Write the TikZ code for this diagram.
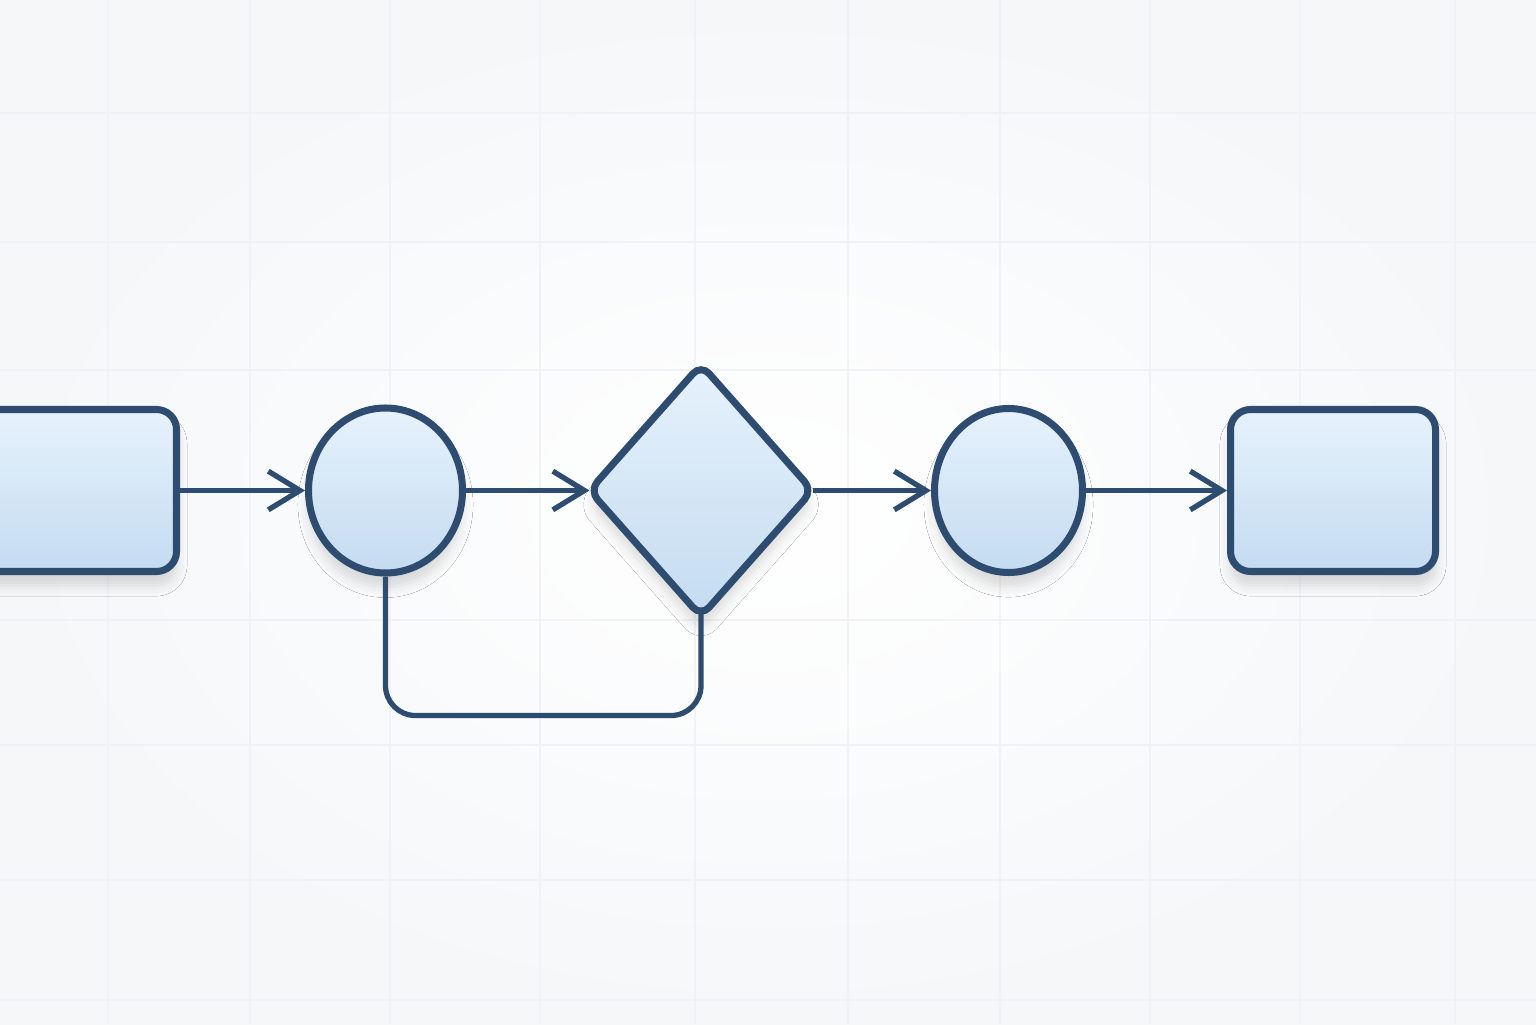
\documentclass[tikz,border=0pt]{standalone}
\usepackage{xcolor}
\usetikzlibrary{arrows.meta,shapes.geometric,shadows.blur,positioning}

\definecolor{edgeblue}{HTML}{2D4C70}
\definecolor{filltop}{HTML}{E6F2FC}
\definecolor{fillbot}{HTML}{C4DBF0}
\definecolor{gridgray}{HTML}{F0F2F5}
\definecolor{paper}{HTML}{F5F7F9}

\begin{document}
\begin{tikzpicture}[>={Straight Barb[length=9pt,width=11pt]}, shorten >=0pt,
                    node distance=3.15cm, line width=1.5pt]
  \tikzstyle{every node}=[draw=edgeblue, line width=2pt, top color=filltop,
                          bottom color=fillbot, inner sep=0pt,
                          blur shadow={shadow xshift=0pt, shadow yshift=-4pt,
                                       shadow opacity=14, shadow blur radius=3pt}]
  \tikzstyle{block}=[rectangle, rounded corners=0.2cm, minimum width=2.05cm,
                     minimum height=1.62cm]
  \tikzstyle{junction}=[ellipse]
  \tikzstyle{gate}=[diamond, rounded corners=0.12cm, outer sep=0pt,
                    minimum width=2.23cm, minimum height=2.52cm]
  \tikzstyle{link}=[draw=edgeblue, line width=1.5pt]

  % page and faint grid
  \useasboundingbox (0,0) rectangle (15.36,10.24);
  \fill[inner color=white, outer color=paper] (0,0) rectangle (15.36,10.24);
  \foreach \x in {1.08,2.50,3.90,5.40,6.95,8.48,10.00,11.50,13.00,14.55}
    \draw[gridgray, line width=0.5pt] (\x,0) -- (\x,10.24);
  \foreach \y in {0.24,1.44,2.79,4.04,6.54,7.82,9.11}
    \draw[gridgray, line width=0.5pt] (0,\y) -- (15.36,\y);

	\node[block]	(start)	at (0.74,5.335)	{};
	\node[junction, minimum width=1.54cm, minimum height=1.65cm]
	              (pick) [right of=start, node distance=3.115cm]	{};
	\node[gate]	(test) [right of=pick, node distance=3.155cm]	{};
	\node[junction, minimum width=1.48cm, minimum height=1.64cm]
	              (work) [right of=test, node distance=3.075cm]	{};
	\node[block]	(finish) [right of=work, node distance=3.245cm]	{};

	\path[->, link]
    (start) edge (pick)
    (pick)  edge (test)
    (test)  edge (work)
    (work)  edge (finish);

  % back loop under the first junction and the gate
  \draw[link, rounded corners=0.3cm, shorten >=-2.5pt]
    (pick.south) -- ++(0,-1.39) -| (test.south);

\end{tikzpicture}
\end{document}
